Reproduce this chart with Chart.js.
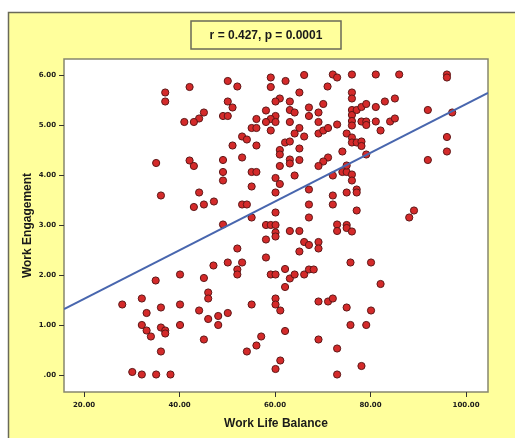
<!DOCTYPE html>
<html>
<head>
<meta charset="utf-8">
<script src="https://cdn.jsdelivr.net/npm/chart.js@4.4.1/dist/chart.umd.min.js"></script>
<style>
  html, body { margin: 0; background: #fff; }
  canvas { display: block; }
</style>
</head>
<body>
<canvas id="scatterChart" width="515" height="438"></canvas>
<script>
// values
const workLifeBalance = [
  42.1,37.0,37.0,45.1,44.1,41.0,43.0,35.1,42.1,43.0,36.1,44.1,43.0,45.1,47.2,
  35.0,40.1,45.1,28.0,32.1,36.1,40.1,33.1,44.1,46.0,46.0,46.0,32.1,33.1,36.1,
  37.0,37.0,40.1,34.0,45.1,36.1,30.1,32.1,35.1,38.1,
  59.1,66.1,72.1,73.0,50.1,62.2,59.1,52.1,71.0,65.1,61.0,60.1,63.1,50.1,51.1,
  70.1,67.1,49.1,50.1,58.1,63.1,64.1,67.1,69.1,56.1,60.1,59.1,58.1,60.1,63.1,
  69.1,73.0,55.1,56.1,59.1,65.1,64.1,66.1,69.1,70.1,71.1,53.1,54.1,62.1,63.1,
  51.1,56.1,61.0,61.0,65.1,74.1,53.1,49.1,63.1,63.1,65.1,61.0,71.1,70.1,69.1,
  49.1,55.1,56.1,64.1,72.1,74.1,75.0,49.1,60.1,61.0,55.1,67.1,75.0,60.1,53.1,
  54.1,67.1,72.1,72.1,60.1,55.1,67.1,
  49.1,58.1,59.1,60.1,60.1,60.1,63.1,65.1,73.0,73.0,75.0,75.0,58.1,66.1,67.1,
  69.1,69.1,65.1,52.1,58.1,50.1,53.1,47.1,52.1,52.1,75.8,62.1,59.1,60.1,63.1,
  64.1,66.1,67.1,68.1,62.1,60.1,60.1,61.1,55.1,69.1,71.1,72.1,75.0,48.1,48.1,
  50.1,75.8,62.1,57.1,56.1,54.1,69.1,73.0,61.1,60.1,73.0,
  76.1,81.1,86.0,96.0,96.0,76.1,76.1,76.1,76.1,77.1,78.1,79.1,76.1,76.1,81.1,
  83.0,85.1,92.0,97.1,78.1,79.1,79.1,81.1,82.1,84.1,85.1,75.0,76.1,76.1,77.1,
  78.1,78.1,79.1,96.0,96.0,92.0,75.0,76.1,76.1,77.1,77.1,77.1,89.1,88.1,
  76.1,80.1,82.1,80.1,79.1,78.1
];
const workEngagement = [
  5.76,5.65,5.47,5.25,5.13,5.06,5.06,4.24,4.29,4.18,3.59,3.65,3.36,3.41,3.47,
  1.89,2.01,1.94,1.41,1.53,1.35,1.41,1.24,1.29,1.65,1.53,1.12,1.00,0.89,0.95,
  0.89,0.83,1.00,0.77,0.71,0.47,0.06,0.01,0.01,0.01,
  5.95,6.00,6.01,5.95,5.88,5.88,5.76,5.77,5.77,5.65,5.53,5.47,5.47,5.47,5.35,
  5.42,5.35,5.18,5.18,5.29,5.30,5.25,5.18,5.25,5.12,5.18,5.12,5.06,5.06,5.06,
  5.06,5.01,4.94,4.94,4.89,4.94,4.83,4.77,4.83,4.89,4.94,4.77,4.71,4.65,4.67,
  4.59,4.59,4.50,4.41,4.53,4.47,4.35,4.30,4.31,4.23,4.30,4.18,4.35,4.27,4.18,
  4.06,4.06,4.06,3.99,3.99,4.06,4.06,3.89,3.94,3.82,3.77,3.71,3.65,3.65,3.41,
  3.41,3.41,3.59,3.41,3.25,3.15,3.15,
  3.01,3.00,3.00,3.00,2.85,2.77,2.88,2.88,3.01,2.88,3.00,2.94,2.71,2.66,2.60,
  2.66,2.53,2.47,2.53,2.35,2.25,2.25,2.19,2.11,2.01,2.25,2.12,2.01,2.01,1.93,
  2.01,2.01,2.11,2.11,1.76,1.53,1.41,1.29,1.41,1.47,1.47,1.53,1.35,1.18,1.00,
  1.24,1.00,0.88,0.77,0.59,0.47,0.71,0.53,0.29,0.12,0.01,
  6.01,6.01,6.01,6.01,5.95,5.65,5.53,5.30,5.20,5.30,5.36,5.42,5.08,4.99,5.36,
  5.47,5.53,5.30,5.25,5.07,5.07,5.00,5.07,4.89,5.07,5.13,4.83,4.75,4.65,4.65,
  4.67,4.58,4.41,4.76,4.47,4.30,4.19,4.01,3.89,3.71,3.65,3.29,3.29,3.15,
  2.87,2.25,1.82,1.29,1.00,0.18
];
// linear fit line, ends read at the plot edges
const fitLineX = [15.8, 104.6];
const fitLineY = [1.32, 5.64];

const xTicks = [20, 40, 60, 80, 100];
const xTickLabels = ['20.00', '40.00', '60.00', '80.00', '100.00'];
const yTicks = [0, 1, 2, 3, 4, 5, 6];
const yTickLabels = ['.00', '1.00', '2.00', '3.00', '4.00', '5.00', '6.00'];
const statsLabel = 'r = 0.427, p = 0.0001';

const tickFont = { family: 'DejaVu Sans', size: 7, weight: 'bold' };
const titleFont = { family: 'Liberation Sans', size: 12, weight: 'bold' };

// yellow SPSS-like panel, white plot area and the stats box
const panelPlugin = {
  id: 'panel',
  beforeDraw(chart) {
    const { ctx, chartArea: a, width, height } = chart;
    ctx.save();
    ctx.fillStyle = '#ffffff';
    ctx.fillRect(0, 0, width, height);
    ctx.fillStyle = '#ffff9c';
    ctx.fillRect(8, 12, width, height);
    ctx.strokeStyle = '#6a6a58';
    ctx.lineWidth = 1.5;
    ctx.strokeRect(8.5, 12.5, width + 10, height + 10);

    ctx.fillStyle = '#ffffff';
    ctx.fillRect(a.left, a.top, a.right - a.left, a.bottom - a.top);
    ctx.strokeStyle = '#86866e';
    ctx.lineWidth = 1.5;
    ctx.strokeRect(a.left, a.top, a.right - a.left, a.bottom - a.top);

    ctx.fillStyle = '#ffff9c';
    ctx.fillRect(191, 21, 150, 28);
    ctx.strokeStyle = '#6a6a58';
    ctx.lineWidth = 1.5;
    ctx.strokeRect(191, 21, 150, 28);
    ctx.fillStyle = '#1a1a1a';
    ctx.font = 'bold 12px "Liberation Sans"';
    ctx.textAlign = 'center';
    ctx.textBaseline = 'middle';
    ctx.fillText(statsLabel, 266, 35.5);
    ctx.restore();
  }
};

const points = workLifeBalance.map((x, i) => ({ x: x, y: workEngagement[i] }));
const fitPoints = fitLineX.map((x, i) => ({ x: x, y: fitLineY[i] }));

new Chart(document.getElementById('scatterChart'), {
  type: 'scatter',
  data: {
    datasets: [
      {
        type: 'line',
        data: fitPoints,
        borderColor: '#4866ae',
        borderWidth: 2,
        pointRadius: 0,
        fill: false,
        order: 0
      },
      {
        data: points,
        backgroundColor: '#d42a2a',
        borderColor: '#5e1616',
        borderWidth: 1,
        pointRadius: 3.6,
        order: 1
      }
    ]
  },
  options: {
    responsive: false,
    animation: false,
    devicePixelRatio: 1,
    layout: { padding: { left: 8, top: 59, right: 27, bottom: 4 } },
    plugins: {
      legend: { display: false },
      tooltip: { enabled: false }
    },
    scales: {
      x: {
        type: 'linear',
        min: 15.8,
        max: 104.6,
        afterFit: s => { s.height = 42; },
        afterBuildTicks: s => { s.ticks = xTicks.map(v => ({ value: v })); },
        grid: { drawOnChartArea: false, tickLength: 5, color: '#333', lineWidth: 1 },
        border: { display: false },
        ticks: {
          padding: 4,
          color: '#1a1a1a',
          font: tickFont,
          maxRotation: 0,
          callback: v => xTickLabels[xTicks.indexOf(v)]
        },
        title: {
          display: true,
          text: 'Work Life Balance',
          color: '#1a1a1a',
          font: titleFont,
          padding: { top: 0, bottom: 3 }
        }
      },
      y: {
        type: 'linear',
        min: -0.34,
        max: 6.32,
        afterFit: s => { s.width = 56; },
        afterBuildTicks: s => { s.ticks = yTicks.map(v => ({ value: v })); },
        grid: { drawOnChartArea: false, tickLength: 5, color: '#333', lineWidth: 1 },
        border: { display: false },
        ticks: {
          padding: 3,
          color: '#1a1a1a',
          font: tickFont,
          callback: v => yTickLabels[yTicks.indexOf(v)]
        },
        title: {
          display: true,
          text: 'Work Engagement',
          color: '#1a1a1a',
          font: titleFont,
          padding: { top: 12, bottom: 0 }
        }
      }
    }
  },
  plugins: [panelPlugin]
});
</script>
</body>
</html>
